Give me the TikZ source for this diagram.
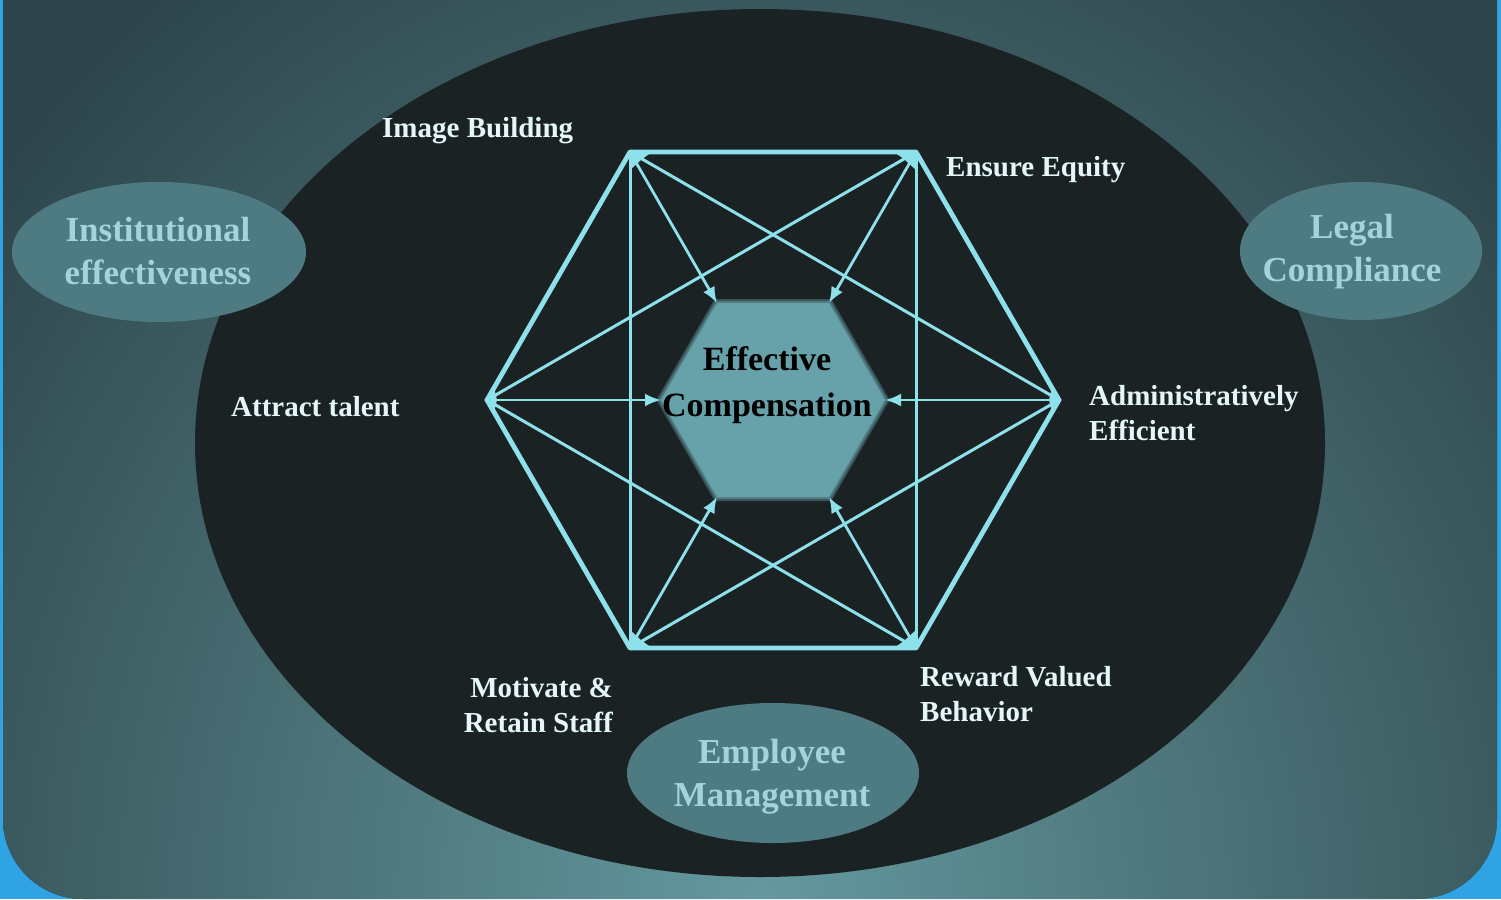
\documentclass[tikz,border=0pt]{standalone}
\usepackage{fontspec}
\setmainfont{Liberation Serif}
\usetikzlibrary{arrows.meta,calc,shapes.geometric}
\definecolor{frameblue}{HTML}{2FA3E4}
\definecolor{bgtop}{HTML}{2D454A}
\definecolor{bglight}{HTML}{64999F}
\definecolor{darkoval}{HTML}{1A2224}
\definecolor{ovalfill}{HTML}{4E7B82}
\definecolor{ovaltext}{HTML}{A2D4DA}
\definecolor{linecyan}{HTML}{8EE0EB}
\definecolor{hexfill}{HTML}{67A1A9}
\definecolor{labeltext}{HTML}{E4F6F8}
\begin{document}
\begin{tikzpicture}[x=1pt,y=-1pt,
  hexline/.style={draw=linecyan,line width=4.8pt,line join=round},
  link/.style={draw=linecyan,line width=3pt},
  arrowlink/.style={draw=linecyan,line width=2.8pt,-{Latex[length=16pt,width=13pt]}},
  lbl/.style={text=labeltext,font=\bfseries\fontsize{29}{35}\selectfont,inner sep=0pt},
  ovaltxt/.style={text=ovaltext,font=\bfseries\fontsize{35}{43}\selectfont,align=center,inner sep=0pt},
  oval/.style={ellipse,fill=ovalfill,inner sep=0pt}]
\useasboundingbox (0,0) rectangle (1501,899);
% frame and background
\fill[frameblue] (0,0) rectangle (1501,899);
\begin{scope}
\clip[rounded corners=80pt] (3,-200) rectangle (1497,899);
\fill[bgtop] (0,0) rectangle (1501,899);
\shade[inner color=bglight, outer color=bgtop] (760,900) ellipse (1000 and 1150);
\end{scope}
% big dark ellipse
\fill[darkoval] (760,443) ellipse (565 and 434);
% side ovals
\node[oval,minimum width=294pt,minimum height=140pt] (instov) at (159,252) {};
\node[oval,minimum width=242pt,minimum height=138pt] (legov) at (1361,251) {};
\node[oval,minimum width=292pt,minimum height=140pt] (empov) at (773,773) {};
\node[ovaltxt] (insttx) at (158,251) {Institutional\\effectiveness};
\node[ovaltxt] (legtx) at (1352,252) {Legal\\Compliance};
\node[ovaltxt] (emptx) at (772,777) {Employee\\Management};
% outer hexagon vertices
\coordinate (A) at (630,152);
\coordinate (B) at (916,152);
\coordinate (C) at (1059,400);
\coordinate (D) at (916,648);
\coordinate (E) at (630,648);
\coordinate (F) at (487,400);
% inner hexagon vertices
\coordinate (iA) at (717,303);
\coordinate (iB) at (829,303);
\coordinate (iC) at (885,400);
\coordinate (iD) at (829,497);
\coordinate (iE) at (717,497);
\coordinate (iF) at (661,400);
% inner hexagon with soft edge
\draw[hexfill!40!darkoval,line width=8pt,line join=round] (iA)--(iB)--(iC)--(iD)--(iE)--(iF)--cycle;
\draw[hexfill!70!darkoval,line width=4pt,line join=round] (iA)--(iB)--(iC)--(iD)--(iE)--(iF)--cycle;
\fill[hexfill] (iA)--(iB)--(iC)--(iD)--(iE)--(iF)--cycle;
% links
\draw[link] (A)--(E);
\draw[link] (B)--(D);
\draw[link] (A)--(C)--(E);
\draw[link] (B)--(F)--(D);
\draw[hexline] (A)--(B)--(C)--(D)--(E)--(F)--cycle;
% arrows to centre
\draw[arrowlink] (A)--(iA);
\draw[arrowlink] (B)--(iB);
\draw[arrowlink] (C)--(iC);
\draw[arrowlink] (D)--(iD);
\draw[arrowlink] (E)--(iE);
\draw[arrowlink] (F)--(iF);
% vertex blobs
\foreach \v/\p/\q/\r in {A/B/C/E, B/A/F/D, D/E/F/B, E/D/C/A}{
  \fill[linecyan] (\v) -- ($(\v)!22pt!(\p)$) -- ($(\v)!14pt!(\q)$) -- ($(\v)!18pt!(\r)$) -- cycle;
}
\fill[linecyan] (F) -- ($(F)!14pt!(A)$) -- ($(F)!10pt!(C)$) -- ($(F)!14pt!(E)$) -- cycle;
\fill[linecyan] (C) -- ($(C)!14pt!(B)$) -- ($(C)!10pt!(F)$) -- ($(C)!14pt!(D)$) -- cycle;
% centre text
\node[font=\bfseries\fontsize{34}{46}\selectfont,align=center,text=black,inner sep=0pt] (ec) at (767,385) {Effective\\Compensation};
% labels
\node[lbl,anchor=west] (img) at (382,131) {Image Building};
\node[lbl,anchor=west] (eq) at (946,170) {Ensure Equity};
\node[lbl,anchor=west] (att) at (231,407) {Attract talent};
\node[lbl,anchor=west,align=left] (adm) at (1089,413) {Administratively\\Efficient};
\node[lbl,anchor=east,align=right] (mot) at (613,705) {Motivate \&\\Retain Staff};
\node[lbl,anchor=west,align=left] (rew) at (920,694) {Reward Valued\\Behavior};
\end{tikzpicture}
\end{document}
